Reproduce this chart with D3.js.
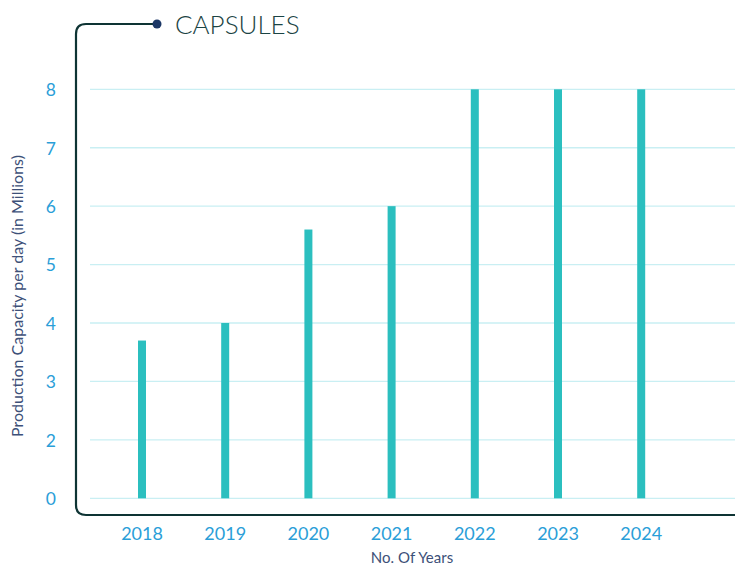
<!DOCTYPE html>
<html><head><meta charset="utf-8">
<script src="https://cdn.jsdelivr.net/npm/d3@7"></script>
<style>html,body{margin:0;padding:0;background:#fff;}svg{display:block;}</style>
</head><body>
<script>
const years = ["2018","2019","2020","2021","2022","2023","2024"];
const capacity = [3.7, 4, 5.6, 6, 8, 8, 8];
const tickValues = [1, 2, 3, 4, 5, 6, 7, 8];
const tickLabels = ["0", "2", "3", "4", "5", "6", "7", "8"];
const title = "CAPSULES";
const yTitle = "Production Capacity per day (in Millions)";
const xTitle = "No. Of Years";

const W = 735, H = 567;
const svg = d3.select("body").append("svg").attr("width", W).attr("height", H);
const font = "Lato, 'Open Sans', sans-serif";

const x = d3.scaleBand().domain(years).range([100.4, 682.8]).paddingInner(0.9).paddingOuter(0.45);
const y = d3.scaleLinear().domain([1, 8]).range([498.3, 89.3]);

// gridlines
svg.append("g").selectAll("line").data(tickValues).join("line")
  .attr("x1", 90).attr("x2", W)
  .attr("y1", d => y(d)).attr("y2", d => y(d))
  .attr("stroke", "#c9eff3").attr("stroke-width", 1.3);

// bars
svg.append("g").selectAll("rect").data(years).join("rect")
  .attr("x", d => x(d) + x.bandwidth()/2 - 4)
  .attr("width", 8)
  .attr("y", (d) => y(capacity[years.indexOf(d)]))
  .attr("height", (d) => y(1) - y(capacity[years.indexOf(d)]))
  .attr("fill", "#2bbfbf");

// frame
const r = 10;
svg.append("path")
  .attr("d", `M157,24 H${76 + r} Q76,24 76,${24 + r} V${515 - r} Q76,515 ${76 + r},515 H${W}`)
  .attr("fill", "none").attr("stroke", "#0e3434").attr("stroke-width", 2.2);
svg.append("circle").attr("cx", 157).attr("cy", 24).attr("r", 4.5).attr("fill", "#1c3766");

svg.append("text").attr("x", 175).attr("y", 33.5).text(title)
  .attr("font-family", font).attr("font-size", 26).attr("font-weight", 300)
  .attr("fill", "#1b4444");

// y tick labels
const yAxis = d3.axisLeft(y).tickValues(tickValues).tickFormat((d, i) => tickLabels[i]).tickSize(0).tickPadding(0);
const gy = svg.append("g").attr("transform", "translate(56,0)").call(yAxis);
gy.select(".domain").remove();
gy.selectAll("text").attr("font-family", font).attr("font-size", 17.5).attr("fill", "#2a9ed8").attr("dy", "0.36em");

// x tick labels
const xAxis = d3.axisBottom(x).tickSize(0).tickPadding(0);
const gx = svg.append("g").attr("transform", "translate(0,527)").call(xAxis);
gx.select(".domain").remove();
gx.selectAll("text").attr("font-family", font).attr("font-size", 18).attr("fill", "#2a9ed8");

// axis titles
svg.append("text").attr("transform", "translate(23,296) rotate(-90)").attr("text-anchor", "middle")
  .text(yTitle).attr("font-family", font).attr("font-size", 16).attr("fill", "#3d5078");
svg.append("text").attr("x", 412).attr("y", 563).attr("text-anchor", "middle")
  .text(xTitle).attr("font-family", font).attr("font-size", 15).attr("fill", "#3d5078");
</script>
</body></html>
